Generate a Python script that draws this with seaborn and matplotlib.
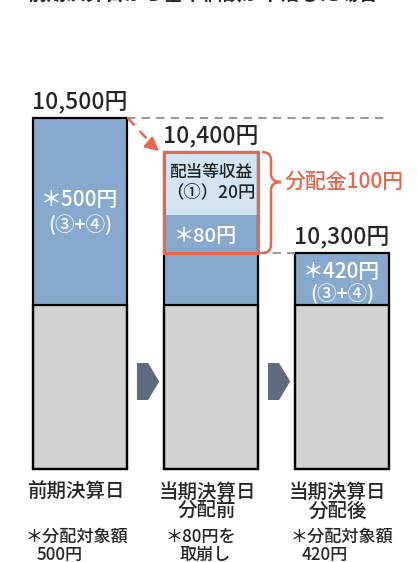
import seaborn as sns
import pandas as pd
import matplotlib.pyplot as plt
from matplotlib.path import Path
from matplotlib.patches import PathPatch, Rectangle

sns.set_style("white")
# 日本語フォント
plt.rcParams['font.family'] = ['Noto Sans CJK JP', 'DejaVu Sans']
plt.rcParams['font.weight'] = 'medium'

title = "前期決算日から基準価額が下落した場合"
day_line1 = ["前期決算日", "当期決算日", "当期決算日"]
day_line2 = ["", "分配前", "分配後"]
nav_labels = ["10,500円", "10,400円", "10,300円"]

# 模式図の高さ（金額に比例していない）
base_h = [164, 164, 164]   # グレーの部分
blue_h = [187, 90, 52]     # 分配対象額
light_h = [0, 63, 0]       # 配当等収益

in_bar_top = ["＊500円", "", "＊420円"]
in_bar_sub = ["(③+④)", "", "(③+④)"]
income_text = ["配当等収益", "（①）20円"]
drawdown_text = "＊80円"
dist_text = "分配金100円"
note_line1 = ["＊分配対象額", "＊80円を", "＊分配対象額"]
note_line2 = ["500円", "取崩し", "420円"]

BLUE = "#88a9ce"
LIGHT = "#d3e3f2"
GREY = "#d2d2d2"
ORANGE = "#e8664a"
ARROW = "#5e6a7e"
DASH = "#9a9a9a"
W = 0.72

df = pd.DataFrame({"day": ["d0", "d1", "d2"], "base": base_h, "blue": blue_h, "light": light_h})
df["mid"] = df["base"] + df["blue"]
df["top"] = df["mid"] + df["light"]

fig = plt.figure(figsize=(4.17, 5.62), dpi=100)
ax = fig.add_axes([0, 0, 1, 1])

common = dict(data=df, x="day", width=W, saturation=1, errorbar=None, ax=ax)
sns.barplot(y="top", color=LIGHT, linewidth=0, **common)
sns.barplot(y="mid", color=BLUE, linewidth=0, **common)
sns.barplot(y="base", color=GREY, linewidth=0, **common)
sns.barplot(y="top", color="black", fill=False, linewidth=1.6, **common)
sns.barplot(y="base", color="black", fill=False, linewidth=1.6, **common)

tops = df["top"].tolist()

# 分配金の枠
ax.add_patch(Rectangle((1 - W / 2, tops[2]), W, tops[1] - tops[2], fill=False,
                       edgecolor=ORANGE, linewidth=2.2, zorder=5))

# 点線
ax.plot([W / 2, 2.33], [tops[0], tops[0]], ls=(0, (4, 3)), color=DASH, lw=1.5, zorder=4)
ax.plot([1 + W / 2, 2 - W / 2], [tops[2], tops[2]], ls=(0, (4, 3)), color=DASH, lw=1.5, zorder=4)

# オレンジの点線矢印
ax.plot([W / 2 + 0.005, 0.56], [tops[0], tops[1] + 6], ls=(0, (4, 3)), color=ORANGE, lw=1.8, zorder=6)
ax.annotate("", xy=(1 - W / 2 - 0.02, tops[1] - 1), xytext=(0.53, tops[1] + 9),
            arrowprops=dict(arrowstyle="-|>", color=ORANGE, lw=1.8, mutation_scale=20), zorder=6)

# 波括弧
x0, xm, x1 = 1.389, 1.458, 1.534
yt, yb, tip, r = tops[1], tops[2], 287, 8
verts = [(x0, yt), (xm, yt), (xm, yt - r), (xm, tip + r), (xm, tip), (x1, tip),
         (xm, tip), (xm, tip - r), (xm, yb + r), (xm, yb), (x0, yb)]
codes = [Path.MOVETO, Path.CURVE3, Path.CURVE3, Path.LINETO, Path.CURVE3, Path.CURVE3,
         Path.CURVE3, Path.CURVE3, Path.LINETO, Path.CURVE3, Path.CURVE3]
ax.add_patch(PathPatch(Path(verts, codes), fill=False, edgecolor=ORANGE, lw=1.8, zorder=6))
ax.text(1.565, tip, dist_text, color=ORANGE, fontsize=15, ha="left", va="center")

# 矢印（ブロック）
for i in range(2):
    c = i + 0.5
    ax.fill([c - 0.065, c + 0.02, c + 0.105, c + 0.02, c - 0.065],
            [69, 69, 87.5, 106, 106], color=ARROW, lw=0, zorder=3)

# 基準価額
for i, lab in enumerate(nav_labels):
    ax.text(i, tops[i] + 16, lab, fontsize=16.5, ha="center", va="center")

# 棒の中の文字
for i in range(3):
    if in_bar_top[i]:
        ax.text(i, tops[i] - 82 if i == 0 else tops[i] - 19, in_bar_top[i], color="white",
                fontsize=15, ha="center", va="center", zorder=7)
        ax.text(i, tops[i] - 107 if i == 0 else tops[i] - 41, in_bar_sub[i], color="white",
                fontsize=14, ha="center", va="center", zorder=7)
ax.text(1, 297, income_text[0], color="#222222", fontsize=12, ha="center", va="center", zorder=7)
ax.text(1, 277, income_text[1], color="#222222", fontsize=12.5, ha="center", va="center", zorder=7)
ax.text(0.962, 232, drawdown_text, color="white", fontsize=14.5, ha="center", va="center", zorder=7)

# 下のラベル
note_dx = [(-0.42, -0.33), (-0.351, -0.237), (-0.397, -0.305)]
for i in range(3):
    ax.text(i - 0.03, -23.5, day_line1[i], fontsize=14, ha="center", va="center")
    if day_line2[i]:
        ax.text(i - 0.03, -42, day_line2[i], fontsize=14, ha="center", va="center")
    ax.text(i + note_dx[i][0], -68, note_line1[i], fontsize=12.3, ha="left", va="center")
    ax.text(i + note_dx[i][1], -86, note_line2[i], fontsize=12.3, ha="left", va="center")

# 上で切れているタイトル
ax.text(0.939, 475, title, fontsize=14, fontweight="bold", ha="center", va="center")

ax.set_xlim(-0.611, 2.573)
ax.set_ylim(-93, 469)
ax.axis("off")

fig.savefig("out.png", dpi=100)
